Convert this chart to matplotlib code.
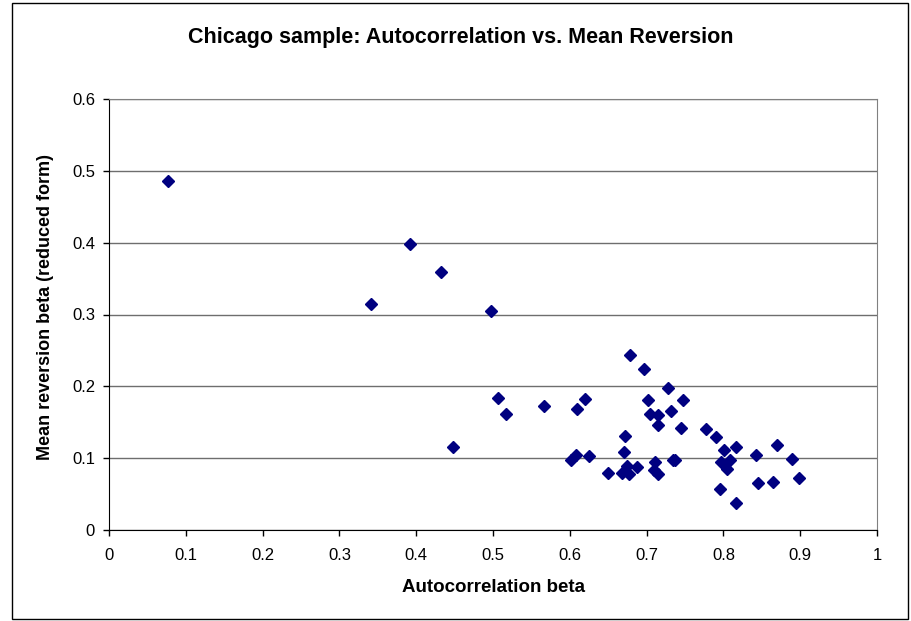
import matplotlib
matplotlib.use("Agg")
import matplotlib.pyplot as plt
from matplotlib.patches import Rectangle

autocorr = [0.077, 0.341, 0.392, 0.432, 0.497, 0.448, 0.506, 0.517, 0.566, 0.602, 0.608, 0.610, 0.620, 0.625,
            0.678, 0.696, 0.728, 0.702, 0.748, 0.704, 0.715, 0.732, 0.715, 0.745, 0.777, 0.790, 0.801, 0.816,
            0.672, 0.670, 0.650, 0.668, 0.674, 0.677, 0.687, 0.711, 0.709, 0.715, 0.734, 0.737, 0.797, 0.808,
            0.805, 0.795, 0.816, 0.842, 0.870, 0.889, 0.845, 0.865, 0.898]
mean_rev = [0.486, 0.315, 0.398, 0.359, 0.305, 0.116, 0.184, 0.162, 0.173, 0.098, 0.104, 0.168, 0.182, 0.103,
            0.244, 0.224, 0.197, 0.181, 0.181, 0.162, 0.160, 0.165, 0.146, 0.142, 0.141, 0.129, 0.111, 0.115,
            0.131, 0.108, 0.079, 0.080, 0.089, 0.078, 0.088, 0.095, 0.084, 0.078, 0.098, 0.097, 0.094, 0.098,
            0.085, 0.057, 0.037, 0.105, 0.118, 0.099, 0.065, 0.067, 0.073]

x_ticks = [0, 0.1, 0.2, 0.3, 0.4, 0.5, 0.6, 0.7, 0.8, 0.9, 1]
x_labels = ["0", "0.1", "0.2", "0.3", "0.4", "0.5", "0.6", "0.7", "0.8", "0.9", "1"]
y_ticks = [0, 0.1, 0.2, 0.3, 0.4, 0.5, 0.6]
y_labels = ["0", "0.1", "0.2", "0.3", "0.4", "0.5", "0.6"]

plt.rcParams['font.family'] = ['Liberation Sans', 'DejaVu Sans']

W, H = 911, 621
fig = plt.figure(figsize=(W / 100, H / 100), dpi=100)
fig.patch.set_facecolor('white')

# outer chart frame
fig.add_artist(Rectangle((12 / W, 1 - 619 / H), (908 - 12) / W, (619 - 3) / H,
                         transform=fig.transFigure, fill=False, edgecolor='black', linewidth=1.0))

ax = fig.add_axes([109 / W, 1 - 530 / H, 768 / W, 431 / H])
ax.set_xlim(0, 1)
ax.set_ylim(0, 0.6)
ax.set_xticks(x_ticks)
ax.set_xticklabels(x_labels)
ax.set_yticks(y_ticks)
ax.set_yticklabels(y_labels)
ax.tick_params(direction='out', length=4, width=1, labelsize=12, colors='black', pad=9)
ax.tick_params(axis='y', pad=6)
ax.grid(axis='y', color='#6e6e6e', linewidth=1)
ax.set_axisbelow(True)
for s in ['top', 'right']:
    ax.spines[s].set_color('#808080')
for s in ['left', 'bottom']:
    ax.spines[s].set_color('black')

ax.plot(autocorr, mean_rev, linestyle='none', marker='D', markersize=6.3,
        color='#000080', markeredgecolor='#000080', clip_on=False, zorder=3)

fig.text(461 / W, 1 - 37 / H, "Chicago sample: Autocorrelation vs. Mean Reversion",
         ha='center', va='center', fontsize=15.5, fontweight='bold')
fig.text(493 / W, 1 - 588 / H, "Autocorrelation beta",
         ha='center', va='center', fontsize=13.5, fontweight='bold')
fig.text(46 / W, 1 - 307 / H, "Mean reversion beta (reduced form)",
         ha='center', va='center', rotation=90, fontsize=13, fontweight='bold')

fig.savefig("out.png", dpi=100)
